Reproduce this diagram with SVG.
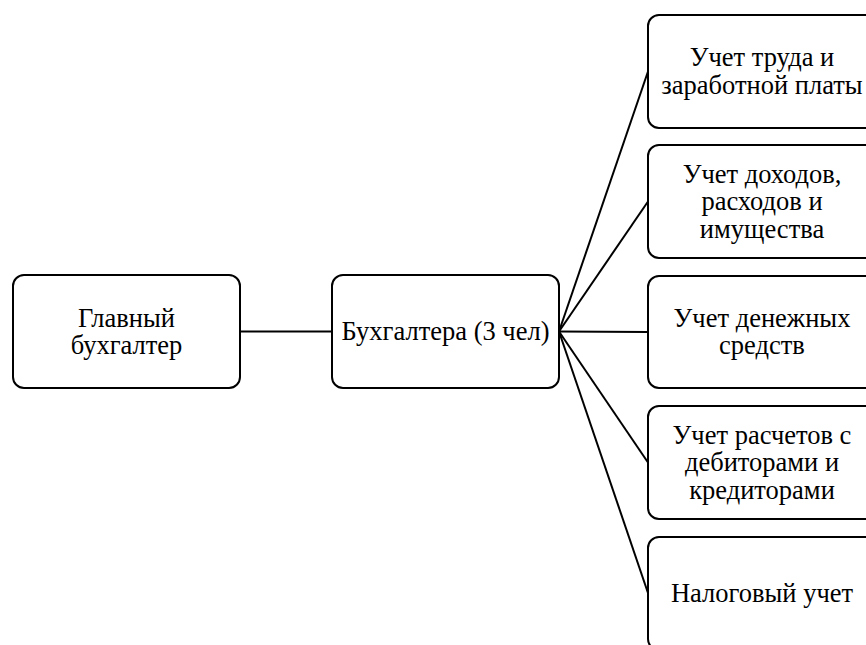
<svg xmlns="http://www.w3.org/2000/svg" width="866" height="645" viewBox="0 0 866 645">
<style>
.box{fill:#fff;stroke:#000;stroke-width:2}
.t{font-family:"Liberation Serif","Times New Roman",serif;font-size:26.5px;fill:#000;text-anchor:middle}
.c{stroke:#000;stroke-width:2;fill:none}
</style>
<rect width="866" height="645" fill="#fff"/>
<g id="connectors">
<line class="c" x1="240" y1="331.5" x2="332" y2="331.5"/>
<line class="c" x1="559" y1="331.5" x2="648" y2="71.5"/>
<line class="c" x1="559" y1="331.5" x2="648" y2="201.5"/>
<line class="c" x1="559" y1="331.5" x2="648" y2="332"/>
<line class="c" x1="559" y1="331.5" x2="648" y2="462.5"/>
<line class="c" x1="559" y1="331.5" x2="648" y2="593"/>
</g>
<g id="chief">
<rect class="box" x="13" y="275" width="227" height="113" rx="11"/>
<text class="t" x="126.5" y="326.5">Главный</text>
<text class="t" x="126.5" y="354">бухгалтер</text>
</g>
<g id="accountants">
<rect class="box" x="332" y="275" width="227" height="113" rx="11"/>
<text class="t" x="445.5" y="340">Бухгалтера (3 чел)</text>
</g>
<g id="labor">
<rect class="box" x="648" y="15" width="228" height="113" rx="11"/>
<text class="t" x="762" y="66">Учет труда и</text>
<text class="t" x="762" y="93.5">заработной платы</text>
</g>
<g id="income">
<rect class="box" x="648" y="145" width="228" height="113" rx="11"/>
<text class="t" x="762" y="182.5">Учет доходов,</text>
<text class="t" x="762" y="210">расходов и</text>
<text class="t" x="762" y="237.5">имущества</text>
</g>
<g id="cash">
<rect class="box" x="648" y="276" width="228" height="112" rx="11"/>
<text class="t" x="762" y="326.5">Учет денежных</text>
<text class="t" x="762" y="354">средств</text>
</g>
<g id="settlements">
<rect class="box" x="648" y="406" width="228" height="113" rx="11"/>
<text class="t" x="762" y="443.5">Учет расчетов с</text>
<text class="t" x="762" y="471">дебиторами и</text>
<text class="t" x="762" y="498.5">кредиторами</text>
</g>
<g id="tax">
<rect class="box" x="648" y="537" width="228" height="113" rx="11"/>
<text class="t" x="762" y="602">Налоговый учет</text>
</g>
</svg>
